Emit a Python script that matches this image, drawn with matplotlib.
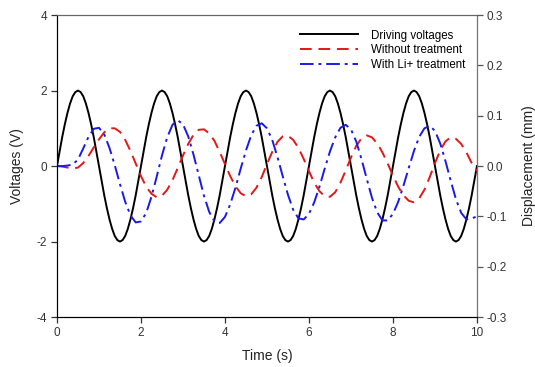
import numpy as np
import matplotlib
matplotlib.use("Agg")
import matplotlib.pyplot as plt

plt.rcParams['font.family'] = ['Liberation Sans', 'DejaVu Sans']
plt.rcParams['axes.unicode_minus'] = False

# driving voltage (V) at 1/16 s steps
drive_t = np.arange(161) * 0.0625
driving_v = [
    0, 0.39, 0.77, 1.11, 1.41, 1.66, 1.85, 1.96, 2, 1.96, 1.85, 1.66, 1.41, 1.11, 0.77, 0.39,
    0, -0.39, -0.77, -1.11, -1.41, -1.66, -1.85, -1.96, -2, -1.96, -1.85, -1.66, -1.41, -1.11, -0.77, -0.39,
    0, 0.39, 0.77, 1.11, 1.41, 1.66, 1.85, 1.96, 2, 1.96, 1.85, 1.66, 1.41, 1.11, 0.77, 0.39,
    0, -0.39, -0.77, -1.11, -1.41, -1.66, -1.85, -1.96, -2, -1.96, -1.85, -1.66, -1.41, -1.11, -0.77, -0.39,
    0, 0.39, 0.77, 1.11, 1.41, 1.66, 1.85, 1.96, 2, 1.96, 1.85, 1.66, 1.41, 1.11, 0.77, 0.39,
    0, -0.39, -0.77, -1.11, -1.41, -1.66, -1.85, -1.96, -2, -1.96, -1.85, -1.66, -1.41, -1.11, -0.77, -0.39,
    0, 0.39, 0.77, 1.11, 1.41, 1.66, 1.85, 1.96, 2, 1.96, 1.85, 1.66, 1.41, 1.11, 0.77, 0.39,
    0, -0.39, -0.77, -1.11, -1.41, -1.66, -1.85, -1.96, -2, -1.96, -1.85, -1.66, -1.41, -1.11, -0.77, -0.39,
    0, 0.39, 0.77, 1.11, 1.41, 1.66, 1.85, 1.96, 2, 1.96, 1.85, 1.66, 1.41, 1.11, 0.77, 0.39,
    0, -0.39, -0.77, -1.11, -1.41, -1.66, -1.85, -1.96, -2, -1.96, -1.85, -1.66, -1.41, -1.11, -0.77, -0.39,
    0,
]

# displacement series, 1/8 s steps
disp_t = np.arange(81) * 0.125

# without treatment (mm)
without_mm = [
    0, -0.001, -0.003, -0.005, -0.003, 0.006, 0.020, 0.037,
    0.053, 0.067, 0.075, 0.075, 0.068, 0.052, 0.030, 0.005,
    -0.020, -0.041, -0.055, -0.062, -0.059, -0.047, -0.028, -0.004,
    0.021, 0.044, 0.062, 0.072, 0.073, 0.065, 0.050, 0.028,
    0.004, -0.020, -0.040, -0.054, -0.060, -0.056, -0.043, -0.022,
    0.004, 0.028, 0.048, 0.059, 0.060, 0.052, 0.036, 0.014,
    -0.010, -0.033, -0.050, -0.060, -0.061, -0.052, -0.033, -0.009,
    0.017, 0.040, 0.055, 0.061, 0.057, 0.045, 0.027, 0.005,
    -0.019, -0.041, -0.058, -0.069, -0.072, -0.064, -0.047, -0.022,
    0.006, 0.031, 0.049, 0.057, 0.054, 0.044, 0.027, 0.006,
    -0.010,
]

# with Li+ treatment (mm)
with_li_mm = [
    0, 0, 0.001, 0.003, 0.013, 0.035, 0.058, 0.074,
    0.076, 0.063, 0.036, 0.002, -0.036, -0.071, -0.098, -0.112,
    -0.110, -0.093, -0.061, -0.021, 0.021, 0.057, 0.082, 0.091,
    0.083, 0.059, 0.023, -0.018, -0.059, -0.091, -0.110, -0.113,
    -0.101, -0.076, -0.043, -0.005, 0.031, 0.061, 0.080, 0.085,
    0.075, 0.052, 0.018, -0.020, -0.057, -0.087, -0.104, -0.106,
    -0.095, -0.072, -0.041, -0.005, 0.029, 0.057, 0.076, 0.082,
    0.073, 0.049, 0.014, -0.025, -0.063, -0.092, -0.108, -0.108,
    -0.095, -0.071, -0.039, -0.004, 0.030, 0.058, 0.075, 0.080,
    0.070, 0.045, 0.010, -0.029, -0.066, -0.093, -0.106, -0.104,
    -0.100,
]

fig = plt.figure(figsize=(5.35, 3.67), dpi=100)
ax = fig.add_axes([0.1065, 0.136, 0.785, 0.823])
ax2 = ax.twinx()

l1, = ax.plot(drive_t, driving_v, color='black', lw=1.4, label='Driving voltages')
l2, = ax2.plot(disp_t, without_mm, color='#e01818', lw=1.4, dashes=(6, 3.5),
               label='Without treatment')
l3, = ax2.plot(disp_t, with_li_mm, color='#1a1ae6', lw=1.4, dashes=(7, 2.5, 1.5, 2.5),
               label='With Li+ treatment')

ax.set_xlim(0, 10)
ax.set_ylim(-4, 4)
ax2.set_ylim(-0.3, 0.3)
ax.set_xticks([0, 2, 4, 6, 8, 10])
ax.set_yticks([-4, -2, 0, 2, 4])
ax2.set_yticks([-0.3, -0.2, -0.1, 0.0, 0.1, 0.2, 0.3])
ax2.set_yticklabels(['-0.3', '-0.2', '-0.1', '0.0', '0.1', '0.2', '0.3'])

for a in (ax, ax2):
    a.tick_params(direction='out', length=4, width=0.9, labelsize=8.5,
                  colors='#333333', pad=3)
ax2.tick_params(axis='y', colors='#555555', labelcolor='#333333')
ax.spines['top'].set_color('#666666')
ax2.spines['top'].set_color('#666666')
ax2.spines['right'].set_color('#777777')

ax.set_xlabel('Time (s)', fontsize=10, color='#222222', labelpad=7)
ax.set_ylabel('Voltages (V)', fontsize=10, color='#222222', labelpad=9)
ax2.set_ylabel('Displacement (mm)', fontsize=10, color='#222222', labelpad=11)

ax2.legend(handles=[l1, l2, l3], loc='upper right', frameon=False, fontsize=8.3,
           handlelength=5.0, handletextpad=1.2, labelspacing=0.22,
           bbox_to_anchor=(0.99, 0.975), borderaxespad=0.2)

fig.savefig('out.png', dpi=100)
